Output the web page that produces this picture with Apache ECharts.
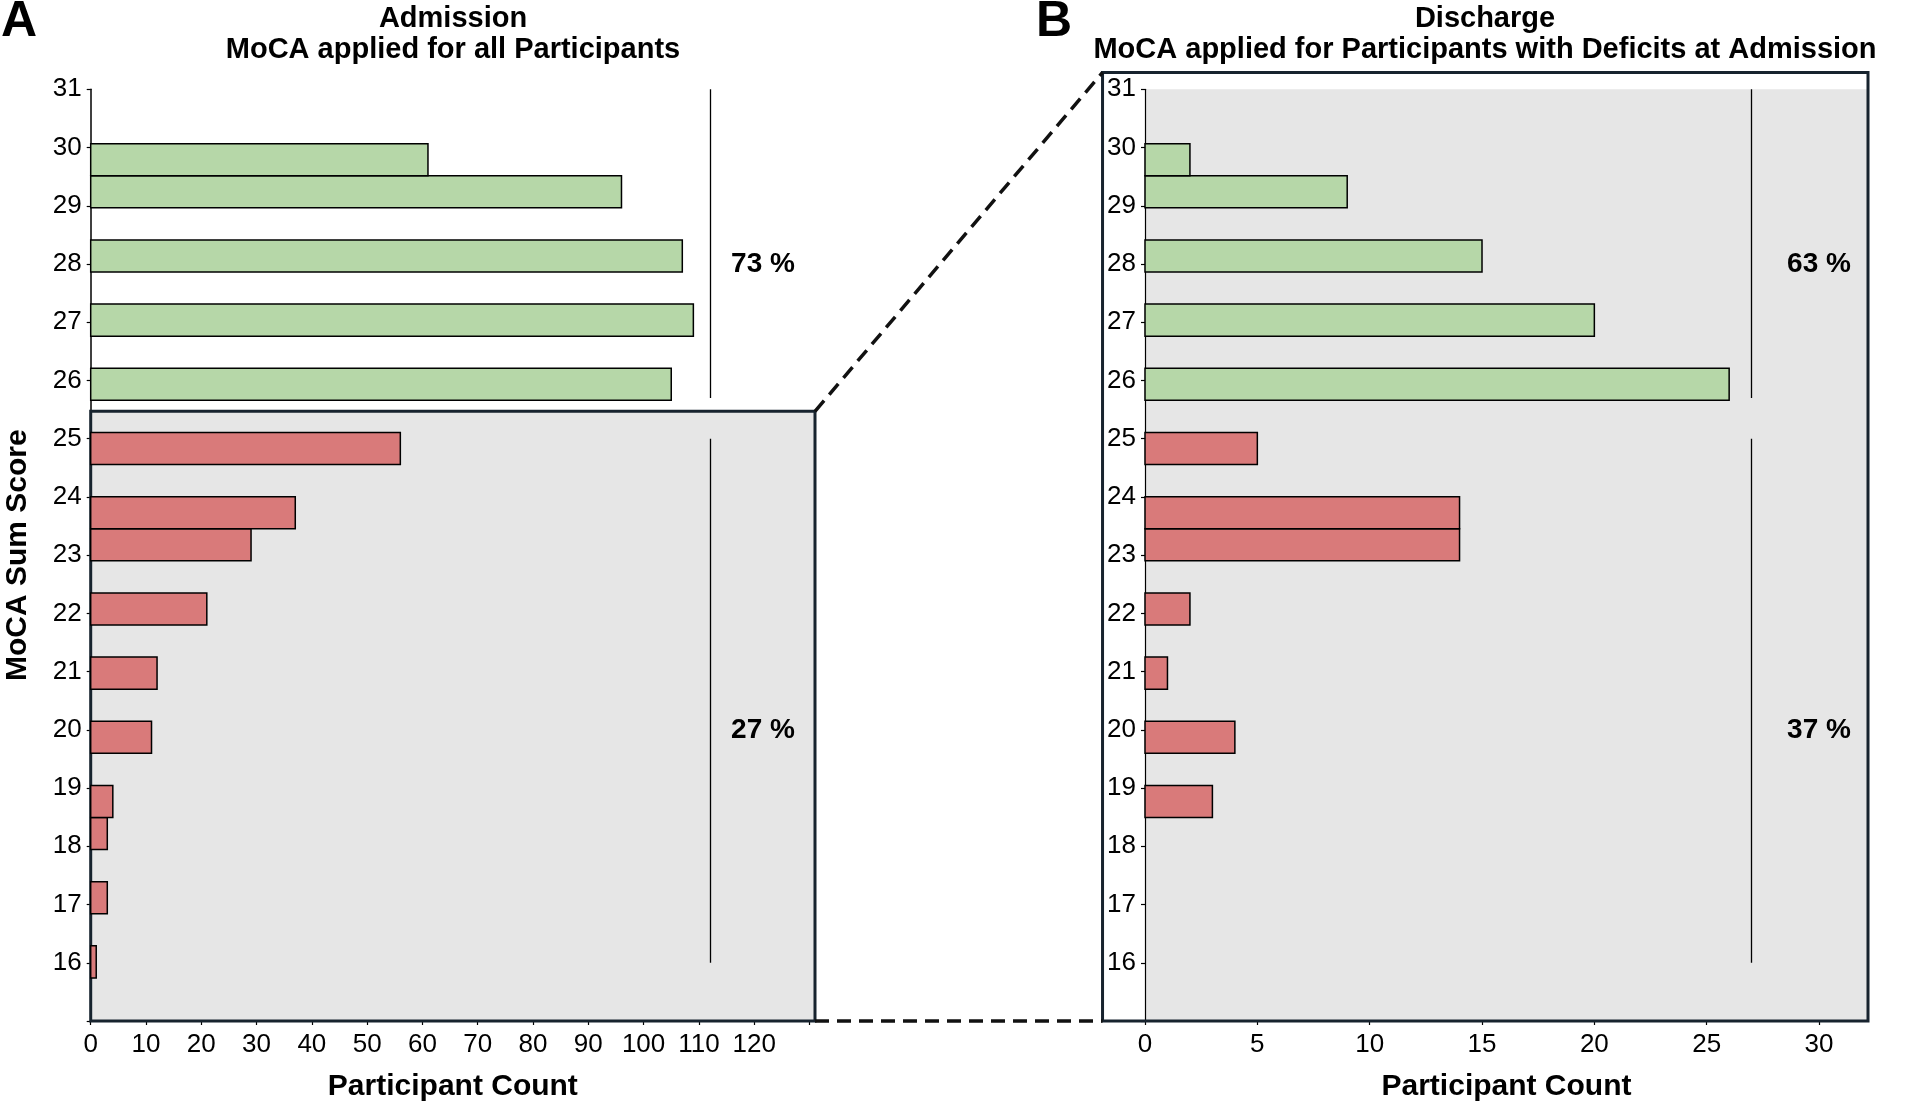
<!DOCTYPE html>
<html>
<head>
<meta charset="utf-8">
<title>MoCA Sum Score at Admission and Discharge</title>
<script src="https://cdn.jsdelivr.net/npm/echarts@6/dist/echarts.min.js"></script>
<style>
    html, body { margin: 0; padding: 0; background: #fff; }
    #main { width: 1907px; height: 1107px; }
</style>
</head>
<body>
<div id="main"></div>
<script>
// MoCA sum score per bar and participant counts
const scores = [16, 17, 18, 19, 20, 21, 22, 23, 24, 25, 26, 27, 28, 29, 30];
const admissionCounts = [1, 3, 3, 4, 11, 12, 21, 29, 37, 56, 105, 109, 107, 96, 61];
const dischargeCounts = [0, 0, 0, 3, 4, 1, 2, 14, 14, 5, 26, 20, 15, 9, 2];

// tick labels
const scoreTicks = [16, 17, 18, 19, 20, 21, 22, 23, 24, 25, 26, 27, 28, 29, 30, 31];
const admissionTicks = [0, 10, 20, 30, 40, 50, 60, 70, 80, 90, 100, 110, 120];
const dischargeTicks = [0, 5, 10, 15, 20, 25, 30];

const CUTOFF = 26; // scores >= 26 count as normal
// histogram binning of the original plot
const BIN_ORIGIN = 15.74;
const BIN_WIDTH = 0.551;

const FONT = "Liberation Sans";
const GREEN = "#b6d7a8";
const RED = "#d97a7a";
const BOX = "#17232e";
const PANEL_GRAY = "#e6e6e6";

function share(counts, normal) {
    let total = 0, part = 0;
    counts.forEach((c, i) => {
        total += c;
        if ((scores[i] >= CUTOFF) === normal) part += c;
    });
    return Math.round((part / total) * 100);
}

function renderBin(params, api) {
    const score = api.value(0);
    const count = api.value(1);
    if (!count) return null;
    const k = Math.floor((score - BIN_ORIGIN) / BIN_WIDTH);
    const lo = BIN_ORIGIN + k * BIN_WIDTH;
    const hi = lo + BIN_WIDTH;
    const a = api.coord([0, hi]);
    const b = api.coord([count, lo]);
    return {
        type: "rect",
        shape: { x: a[0], y: a[1], width: b[0] - a[0], height: b[1] - a[1] },
        style: {
            fill: score >= CUTOFF ? GREEN : RED,
            stroke: "#000",
            lineWidth: 1.5,
        },
    };
}

const tickLabel = { fontSize: 26, color: "#000", fontFamily: FONT };

function yAxisFor(gridIndex, withName) {
    return {
        gridIndex: gridIndex,
        type: "value",
        min: 15,
        max: 31,
        interval: 1,
        name: withName ? "MoCA Sum Score" : "",
        nameLocation: "middle",
        nameGap: 58,
        nameTextStyle: { fontSize: 30, fontWeight: "bold", color: "#000", fontFamily: FONT },
        axisLine: { show: true, lineStyle: { color: "#000", width: gridIndex ? 1.2 : 1.5 } },
        axisTick: { show: true, length: 4, lineStyle: { color: "#000", width: 1.2 } },
        axisLabel: Object.assign({}, tickLabel, {
            margin: 9,
            formatter: (v) => (scoreTicks.includes(v) ? String(v) : ""),
        }),
        splitLine: { show: false },
    };
}

function xAxisFor(gridIndex, max, interval, ticks) {
    return {
        gridIndex: gridIndex,
        type: "value",
        min: 0,
        max: max,
        interval: interval,
        name: "Participant Count",
        nameLocation: "middle",
        nameGap: 51,
        nameTextStyle: { fontSize: 30, fontWeight: "bold", color: "#000", fontFamily: FONT },
        axisLine: { show: true, onZero: false, lineStyle: { color: "#000", width: 1.5 } },
        axisTick: { show: true, length: 4, lineStyle: { color: "#000", width: 1.2 } },
        axisLabel: Object.assign({}, tickLabel, {
            margin: 11,
            showMaxLabel: false,
            formatter: (v) => (ticks.includes(v) ? String(v) : ""),
        }),
        splitLine: { show: false },
    };
}

function percentSeries(gridIndex, textX, lineX, counts) {
    return {
        type: "scatter",
        xAxisIndex: gridIndex,
        yAxisIndex: gridIndex,
        z: 5,
        silent: true,
        symbolSize: 1,
        itemStyle: { color: "rgba(0,0,0,0)", opacity: 1 },
        label: {
            show: true,
            position: "inside",
            formatter: (p) => p.value[2] + " %",
            fontSize: 28,
            fontWeight: "bold",
            color: "#000",
            textBorderWidth: 0,
            fontFamily: FONT,
        },
        data: [
            [textX, 28, share(counts, true)],
            [textX, 20, share(counts, false)],
        ],
        markLine: {
            silent: true,
            symbol: "none",
            label: { show: false },
            lineStyle: { color: "#000", width: 1.3, type: "solid", opacity: 1 },
            data: [
                [{ coord: [lineX, 31] }, { coord: [lineX, 25.7] }],
                [{ coord: [lineX, 25] }, { coord: [lineX, 16] }],
            ],
        },
    };
}

const titleStyle = { fontSize: 29, fontWeight: "bold", lineHeight: 31, color: "#000", fontFamily: FONT };
const letterStyle = { fontSize: 50, fontWeight: "bold", lineHeight: 50, color: "#000", fontFamily: FONT };

const option = {
    animation: false,
    backgroundColor: "#fff",
    title: [
        {
            text: "Admission\nMoCA applied for all Participants",
            left: 453,
            top: 3.5,
            padding: 0,
            textAlign: "center",
            textStyle: titleStyle,
        },
        {
            text: "Discharge\nMoCA applied for Participants with Deficits at Admission",
            left: 1485,
            top: 3.5,
            padding: 0,
            textAlign: "center",
            textStyle: titleStyle,
        },
        { text: "A", left: 1, top: -3, padding: 0, textStyle: letterStyle },
        { text: "B", left: 1036, top: -3, padding: 0, textStyle: letterStyle },
    ],
    grid: [
        { left: 90.7, top: 89.3, width: 724.3, height: 932.7 },
        {
            left: 1145, top: 89.3, width: 723, height: 932.7,
            show: true, backgroundColor: PANEL_GRAY, borderWidth: 0,
        },
    ],
    xAxis: [
        xAxisFor(0, 131, 10, admissionTicks),
        xAxisFor(1, 32.18, 5, dischargeTicks),
    ],
    yAxis: [yAxisFor(0, true), yAxisFor(1, false)],
    series: [
        {
            type: "custom",
            xAxisIndex: 0,
            yAxisIndex: 0,
            renderItem: renderBin,
            encode: { x: 1, y: 0 },
            data: scores.map((s, i) => [s, admissionCounts[i]]),
        },
        {
            type: "custom",
            xAxisIndex: 1,
            yAxisIndex: 1,
            renderItem: renderBin,
            encode: { x: 1, y: 0 },
            data: scores.map((s, i) => [s, dischargeCounts[i]]),
        },
        percentSeries(0, 121.6, 112, admissionCounts),
        percentSeries(1, 30, 27, dischargeCounts),
    ],
};

const chart = echarts.init(document.getElementById("main"));
chart.setOption(option);

// zoom boxes and the dashed connectors, placed through the axes
const pL = (v) => chart.convertToPixel({ gridIndex: 0 }, v);
const pR = (v) => chart.convertToPixel({ gridIndex: 1 }, v);
const box = (a, b) => ({ x: a[0], y: a[1], width: b[0] - a[0], height: b[1] - a[1] });

const leftTopLeft = pL([0, 25.47]);
const leftBottomRight = pL([131, 15]);
const rightTopLeft = pR([-1.89, 31.29]);
const rightBottomRight = pR([32.18, 15]);

chart.setOption({
    graphic: [
        {
            type: "rect",
            z: 1,
            silent: true,
            shape: box(leftTopLeft, leftBottomRight),
            style: { fill: PANEL_GRAY, stroke: BOX, lineWidth: 3 },
        },
        {
            type: "rect",
            z: 10,
            silent: true,
            shape: box(rightTopLeft, rightBottomRight),
            style: { fill: null, stroke: BOX, lineWidth: 3 },
        },
        {
            type: "line",
            z: 10,
            silent: true,
            shape: { x1: leftBottomRight[0], y1: leftTopLeft[1], x2: rightTopLeft[0], y2: rightTopLeft[1] },
            style: { stroke: "#111", lineWidth: 3.5, lineDash: [14, 8] },
        },
        {
            type: "line",
            z: 10,
            silent: true,
            shape: { x1: leftBottomRight[0], y1: leftBottomRight[1], x2: rightTopLeft[0], y2: rightBottomRight[1] },
            style: { stroke: "#111", lineWidth: 3.5, lineDash: [14, 8] },
        },
    ],
});
</script>
</body>
</html>
